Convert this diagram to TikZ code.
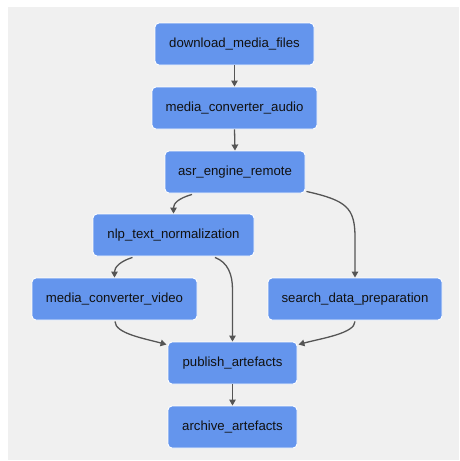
\documentclass[tikz,border=0pt]{standalone}
\usepackage{fontspec}
\setmainfont{Liberation Sans}
\usetikzlibrary{arrows.meta,calc}
\definecolor{bgc}{HTML}{F0F0F0}
\definecolor{boxc}{HTML}{6495ED}
\definecolor{edgec}{HTML}{555555}
\definecolor{txtc}{HTML}{111111}
\tikzset{
  task/.style={rectangle, rounded corners=4pt, fill=boxc, draw=white, line width=0.9pt,
    minimum height=42pt, inner sep=0pt, text=txtc, font=\fontsize{13.2}{15}\selectfont},
  flow/.style={draw=edgec, line width=1.3pt, -{Triangle[length=6pt,width=6.5pt]}}
}
\begin{document}
\begin{tikzpicture}[x=1pt,y=-1pt]
\useasboundingbox (0,0) rectangle (459,461);
\fill[white] (0,0) rectangle (459,461);
\fill[bgc] (8,7) rectangle (459,460);
\node[task, minimum width=159pt] (dl) at (234.5,44) {download\_media\_files};
\node[task, minimum width=165pt] (aud) at (234.5,108) {media\_converter\_audio};
\node[task, minimum width=140pt] (asr) at (235,172) {asr\_engine\_remote};
\node[task, minimum width=161pt] (nlp) at (173.5,235) {nlp\_text\_normalization};
\node[task, minimum width=165pt] (vid) at (114.5,299) {media\_converter\_video};
\node[task, minimum width=174pt] (sdp) at (355,299) {search\_data\_preparation};
\node[task, minimum width=129pt] (pub) at (232.5,363) {publish\_artefacts};
\node[task, minimum width=129pt] (arc) at (232.5,427) {archive\_artefacts};
\draw[flow] (dl.south) -- (aud.north);
\draw[flow] (aud.south) -- (asr.north);
\draw[flow] ($(asr.south)+(-43,1)$) .. controls +(-14,4) and +(0,-10) .. (nlp.north);
\draw[flow] ($(asr.south east)+(1,-2)$) .. controls +(40,9) and +(0,-30) .. ($(sdp.north)+(0,-40)$) -- (sdp.north);
\draw[flow] ($(nlp.south)+(-41,1)$) .. controls +(-13,4) and +(0,-10) .. (vid.north);
\draw[flow] ($(nlp.south)+(41.5,1)$) .. controls +(13,5) and +(0,-15) .. ($(pub.north)+(0,-52)$) -- (pub.north);
\draw[flow] ($(vid.south)+(0.5,1)$) .. controls +(0,12) and +(-22,-6) .. ($(pub.north west)+(-1,3)$);
\draw[flow] ($(sdp.south)+(0,1)$) .. controls +(0,12) and +(22,-6) .. ($(pub.north east)+(1,3)$);
\draw[flow] (pub.south) -- (arc.north);
\end{tikzpicture}
\end{document}
